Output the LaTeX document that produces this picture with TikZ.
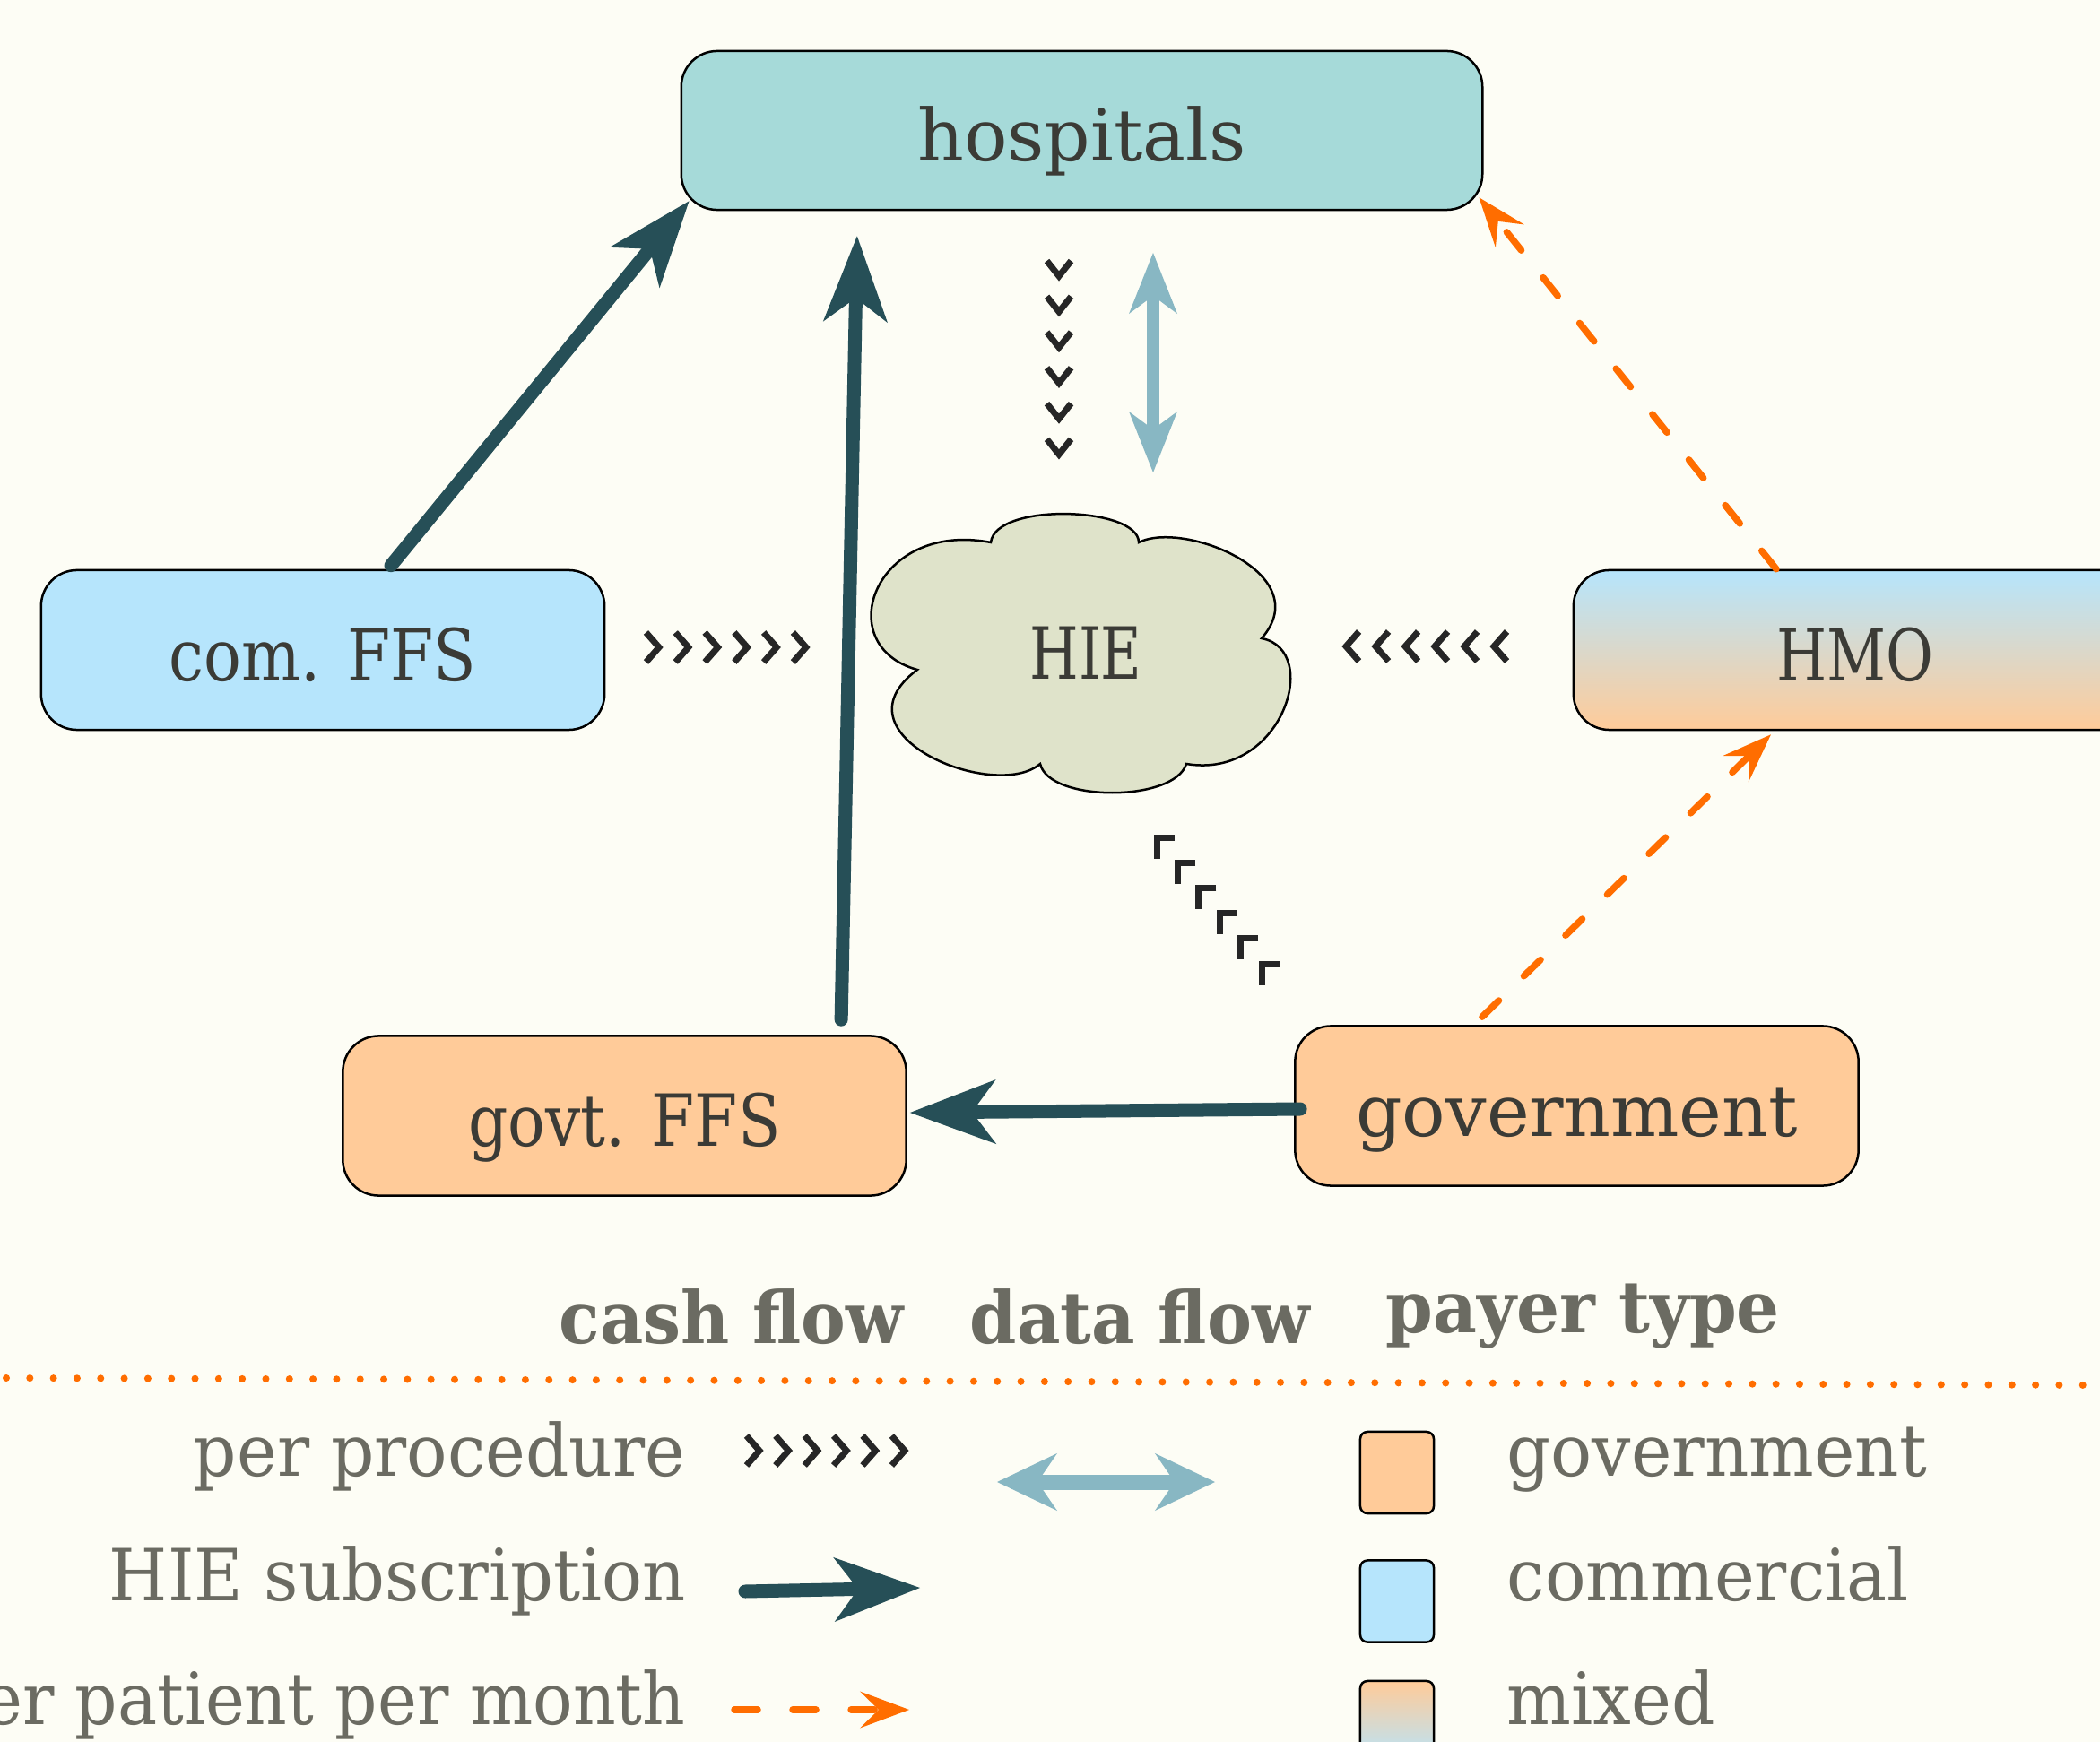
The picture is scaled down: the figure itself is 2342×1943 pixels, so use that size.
\documentclass[tikz,border=0pt]{standalone}
\usepackage{fontspec}
\setmainfont{DejaVu Serif}
\usepackage{graphicx}
\usetikzlibrary{arrows.meta,decorations.markings}
\definecolor{bgc}{HTML}{FDFDF5}
\definecolor{hospc}{HTML}{A6DAD9}
\definecolor{comc}{HTML}{B6E5FC}
\definecolor{govc}{HTML}{FFCB99}
\definecolor{hiec}{HTML}{DFE3CA}
\definecolor{cashc}{HTML}{264F57}
\definecolor{datac}{HTML}{88B7C3}
\definecolor{ppmc}{HTML}{FF6D00}
\definecolor{chevc}{HTML}{262626}
\definecolor{nodetxt}{HTML}{3B3B36}
\definecolor{legtxt}{HTML}{6B6B62}
\newcommand\fitw[2]{\resizebox{#1}{\height}{#2}}
\newcommand\bodyfont{\fontsize{22.8pt}{27pt}\selectfont}
\tikzset{
  box/.style={draw=black, line width=0.025cm, rounded corners=0.4cm, inner sep=0pt,
    minimum width=6.28cm, minimum height=1.78cm, text=nodetxt,
    text height=0.68cm, text depth=0cm, font=\bodyfont},
  swatch/.style={draw=black, line width=0.025cm, rounded corners=0.08cm, inner sep=0pt,
    minimum width=0.82cm, minimum height=0.91cm},
  header/.style={text=legtxt, font=\bodyfont\bfseries, inner sep=0pt, anchor=base west},
  legl/.style={text=legtxt, font=\bodyfont, inner sep=0pt, anchor=base east},
  legr/.style={text=legtxt, font=\bodyfont, inner sep=0pt, anchor=base west},
  cash/.style={draw=cashc, line width=0.15cm, line cap=round,
    -{Stealth[length=0.96cm, width=0.72cm, inset=0.27cm, line width=0pt]}},
  ppm/.style={draw=ppmc, line width=0.075cm, line cap=round, dash pattern=on 0.26cm off 0.39cm,
    -{Stealth[length=0.55cm, width=0.41cm, inset=0.21cm, line width=0pt]}},
  datafl/.style={draw=datac, line width=0.14cm,
    {Stealth[length=0.68cm, width=0.54cm, inset=0.2cm, line width=0pt]}-{Stealth[length=0.68cm, width=0.54cm, inset=0.2cm, line width=0pt]}},
  datalg/.style={draw=datac, line width=0.17cm,
    {Stealth[length=0.67cm, width=0.64cm, inset=0.22cm, line width=0pt]}-{Stealth[length=0.67cm, width=0.64cm, inset=0.22cm, line width=0pt]}},
  chevs/.style={postaction={decorate}, decoration={markings,
    mark=between positions 0 and 1 step 0.1999 with {\pgftransformresetnontranslations
      \draw[chevc, line width=0.07cm] #1;}}}
}
\begin{document}
\begin{tikzpicture}[x=0.01cm, y=-0.01cm]
\fill[bgc] (0,0) rectangle (2342,1943);
\useasboundingbox (0,0) rectangle (2342,1943);

% nodes
\node[box, fill=hospc, minimum width=8.93cm, minimum height=1.77cm] (hosp) at (1206.5,145.5) {\fitw{3.66cm}{hospitals}};
\node[box, fill=comc] (com) at (360,725) {\fitw{3.42cm}{com. FFS}};
\node[box, top color=comc, bottom color=govc] (hmo) at (2069,725) {\fitw{1.75cm}{HMO}};
\node[box, fill=govc] (govt) at (696.5,1244.5) {\fitw{3.48cm}{govt. FFS}};
\node[box, fill=govc] (gov) at (1758.5,1233.5) {\fitw{4.92cm}{government}};

% HIE cloud
\draw[fill=hiec, line width=0.025cm] (1023,747) .. controls (925,720) and (975,580) .. (1105,605)
  .. controls (1110,560) and (1270,565) .. (1270,605)
  .. controls (1320,580) and (1470,640) .. (1407,712)
  .. controls (1475,725) and (1430,870) .. (1323,852)
  .. controls (1310,895) and (1170,895) .. (1160,852)
  .. controls (1110,895) and (925,820) .. (1023,747) -- cycle;
\node[text=nodetxt, font=\bodyfont, inner sep=0pt, anchor=base] (hie) at (1211,758) {\fitw{1.25cm}{HIE}};

% cash flow
\draw[cash] ([xshift=0.76cm,yshift=0.04cm]com.north) -- ([xshift=0.10cm,yshift=0.11cm]hosp.south west);
\draw[cash] ([xshift=2.415cm,yshift=0.17cm]govt.north) -- ([xshift=-2.505cm,yshift=-0.28cm]hosp.south);
\draw[cash] ([xshift=0.07cm,yshift=-0.035cm]gov.west) -- ([xshift=0.03cm,yshift=0.035cm]govt.east);

% per patient per month
\draw[ppm] ([xshift=-0.88cm]hmo.north) -- ([xshift=-0.05cm,yshift=0.15cm]hosp.south east);
\draw[ppm] ([xshift=-1.055cm,yshift=0.09cm]gov.north) -- ([xshift=-0.94cm,yshift=-0.04cm]hmo.south);

% data flow
\coordinate (dtop) at (1286,282);
\coordinate (dbot) at (1286,527);
\draw[datafl] (dtop) -- (dbot);

% per procedure chevrons
\coordinate (c1a) at (735,722);  \coordinate (c1b) at (899,722);
\coordinate (c2a) at (1666,721); \coordinate (c2b) at (1501,721);
\coordinate (c3a) at (1181,308); \coordinate (c3b) at (1181,507);
\coordinate (c4a) at (1407,1075); \coordinate (c4b) at (1290,934);
\path[chevs={(-0.145cm,0.165cm) -- (0cm,0cm) -- (-0.145cm,-0.165cm)}] (c1a) -- (c1b);
\path[chevs={(0.145cm,0.165cm) -- (0cm,0cm) -- (0.145cm,-0.165cm)}] (c2a) -- (c2b);
\path[chevs={(-0.135cm,0.17cm) -- (0cm,0cm) -- (0.135cm,0.17cm)}] (c3a) -- (c3b);
\path[chevs={(0.195cm,0cm) -- (0cm,0cm) -- (0cm,-0.235cm)}] (c4a) -- (c4b);

% legend headers
\node[header] (hcash) at (623,1498) {\fitw{3.84cm}{cash flow}};
\node[header] (hdata) at (1081,1498) {\fitw{3.79cm}{data flow}};
\node[header] (hpayer) at (1545,1486) {\fitw{4.39cm}{payer type}};

\coordinate (sepL) at (7,1537);
\coordinate (sepR) at (2342,1545);
\draw[ppmc, line width=0.08cm, line cap=round, dash pattern=on 0cm off 0.263cm] (sepL) -- (sepR);

% legend rows
\node[legl] (lpp) at (765,1646) {\fitw{5.48cm}{per procedure}};
\node[legl] (lhs) at (765,1785) {\fitw{6.42cm}{HIE subscription}};
\node[legl] (lpm) at (765,1923) {\fitw{8.3cm}{per patient per month}};

\coordinate (lc1) at (847,1618); \coordinate (lc2) at (1009,1618);
\path[chevs={(-0.145cm,0.165cm) -- (0cm,0cm) -- (-0.145cm,-0.165cm)}] (lc1) -- (lc2);
\coordinate (lh1) at (831,1775); \coordinate (lh2) at (1026,1771);
\draw[cash] (lh1) -- (lh2);
\coordinate (lm1) at (819,1907); \coordinate (lm2) at (1014,1907);
\draw[ppm] (lm1) -- (lm2);
\coordinate (ld1) at (1112,1653); \coordinate (ld2) at (1355,1653);
\draw[datalg] (ld1) -- (ld2);

\node[swatch, fill=govc] (sw1) at (1558,1642.5) {};
\node[swatch, fill=comc] (sw2) at (1558,1786) {};
\node[swatch, top color=govc, bottom color=comc] (sw3) at (1558,1920.5) {};
\node[legr] (lgov) at (1680,1646) {\fitw{4.68cm}{government}};
\node[legr] (lcom) at (1680,1785) {\fitw{4.48cm}{commercial}};
\node[legr] (lmix) at (1680,1923) {\fitw{2.32cm}{mixed}};
\end{tikzpicture}
\end{document}
